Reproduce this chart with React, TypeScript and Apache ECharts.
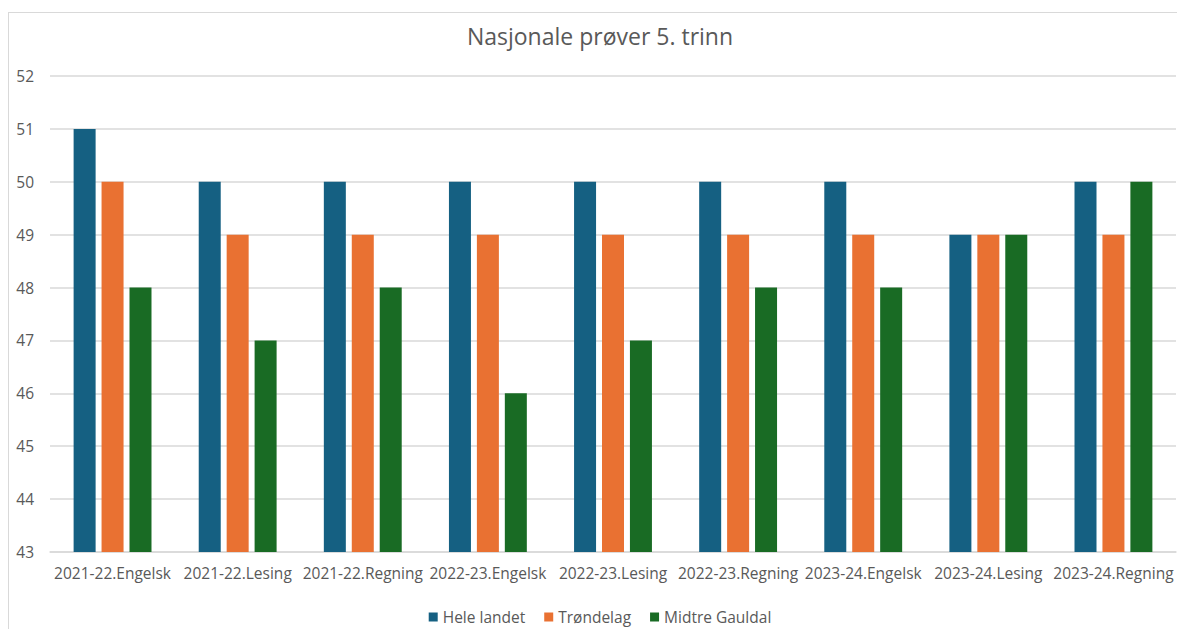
import React, { useEffect, useRef } from "react";
import * as echarts from "echarts";

const categories = [
  "2021-22.Engelsk",
  "2021-22.Lesing",
  "2021-22.Regning",
  "2022-23.Engelsk",
  "2022-23.Lesing",
  "2022-23.Regning",
  "2023-24.Engelsk",
  "2023-24.Lesing",
  "2023-24.Regning",
];
const heleLandet = [51, 50, 50, 50, 50, 50, 50, 49, 50];
const trondelag = [50, 49, 49, 49, 49, 49, 49, 49, 49];
const midtreGauldal = [48, 47, 48, 46, 47, 48, 48, 49, 50];
const seriesNames = ["Hele landet", "Trøndelag", "Midtre Gauldal"];
const colors = ["#156082", "#E97132", "#196B24"];

const FONT = "'Open Sans', 'Noto Sans', sans-serif";

export default function App() {
  const ref = useRef<HTMLDivElement>(null);
  useEffect(() => {
    document.body.style.overflow = "hidden";
    document.documentElement.style.overflow = "hidden";
    const chart = echarts.init(ref.current!, undefined, { renderer: "svg" });
    const mk = (name: string, data: number[], color: string) => ({
      name,
      type: "bar",
      data,
      barWidth: 22,
      barGap: "27%",
      itemStyle: { color },
    });
    chart.setOption({
      animation: false,
      title: {
        text: "Nasjonale prøver 5. trinn",
        left: "center",
        top: 6,
        textStyle: { fontFamily: FONT, fontSize: 23, fontWeight: "normal", color: "#595959" },
      },
      legend: {
        top: 591,
        left: "center",
        itemWidth: 9,
        itemHeight: 9,
        itemGap: 19,
        icon: "rect",
        textStyle: { fontFamily: FONT, fontSize: 15.5, color: "#595959" },
        data: seriesNames,
      },
      grid: { left: 41, right: 15, top: 63, bottom: 89, containLabel: false },
      xAxis: {
        type: "category",
        data: categories,
        axisLine: { lineStyle: { color: "#d9d9d9", width: 1.5 } },
        axisTick: { show: false },
        axisLabel: { fontFamily: FONT, fontSize: 15.5, color: "#595959", margin: 13, interval: 0 },
      },
      yAxis: {
        type: "value",
        min: 43,
        max: 52,
        interval: 1,
        axisLine: { show: false },
        axisTick: { show: false },
        splitLine: { lineStyle: { color: "#d9d9d9", width: 1.5 } },
        axisLabel: { fontFamily: FONT, fontSize: 15.5, color: "#595959", margin: 16 },
      },
      series: [
        mk(seriesNames[0], heleLandet, colors[0]),
        mk(seriesNames[1], trondelag, colors[1]),
        mk(seriesNames[2], midtreGauldal, colors[2]),
      ],
    });
    return () => chart.dispose();
  }, []);
  return (
    <div
      style={{
        position: "absolute",
        left: 8,
        top: 12,
        width: 1184,
        height: 630,
        border: "1px solid #d9d9d9",
        boxSizing: "border-box",
        background: "#fff",
      }}
    >
      <div ref={ref} style={{ width: 1182, height: 628 }} />
    </div>
  );
}
